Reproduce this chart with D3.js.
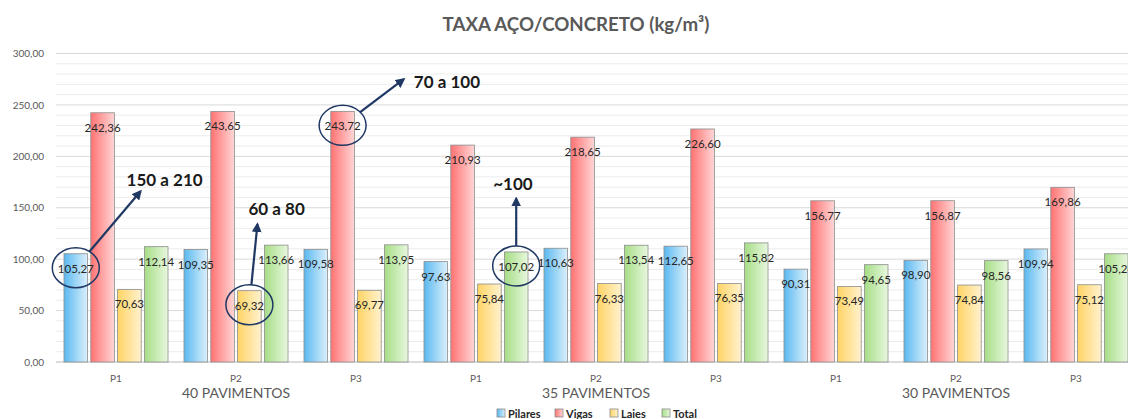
<!DOCTYPE html>
<html>
<head>
<meta charset="utf-8">
<script src="https://cdn.jsdelivr.net/npm/d3@7"></script>
<style>
  html, body { margin: 0; padding: 0; background: #fff; }
  svg { display: block; }
</style>
</head>
<body>
<svg id="chart" width="1128" height="419"></svg>
<script>
// ---------- DATA ----------
const groups = ["40 PAVIMENTOS", "35 PAVIMENTOS", "30 PAVIMENTOS"];
const subCategories = ["P1", "P2", "P3"];
const seriesNames = ["Pilares", "Vigas", "Laies", "Total"];
const pilares = [105.27, 109.35, 109.58, 97.63, 110.63, 112.65, 90.31, 98.90, 109.94];
const vigas   = [242.36, 243.65, 243.72, 210.93, 218.65, 226.60, 156.77, 156.87, 169.86];
const laies   = [70.63, 69.32, 69.77, 75.84, 76.33, 76.35, 73.49, 74.84, 75.12];
const total   = [112.14, 113.66, 113.95, 107.02, 113.54, 115.82, 94.65, 98.56, 105.24];
const yTicks  = [0, 50, 100, 150, 200, 250, 300];
const titleText = "TAXA AÇO/CONCRETO (kg/m³)";
// annotations: circled bar (category index, series), label text, arrow tip (offset in bands from bar, value)
const annotationCats   = [0, 1, 2, 3];
const annotationSeries = ["Pilares", "Laies", "Vigas", "Total"];
const annotationTexts  = ["150 a 210", "60 a 80", "70 a 100", "~100"];
const arrowTipBand     = [0.54, 0.067, 0.51, 0.0];
const arrowTipValue    = [166, 134, 275, 159];

// ---------- SETUP ----------
const seriesValues = { Pilares: pilares, Vigas: vigas, Laies: laies, Total: total };
const categories = [];
groups.forEach((g, gi) => subCategories.forEach((s, si) => categories.push({ id: gi * 3 + si, group: g, sub: s })));

const colors = {
  Pilares: ["#5ab8f0", "#dcf0fc"],
  Vigas:   ["#ff7373", "#ffd6d6"],
  Laies:   ["#ffd465", "#fff2cf"],
  Total:   ["#a5dd86", "#e8f8dd"]
};
// label offsets relative to arrow tip (style)
const labelOffsets = [[-14, -5], [-9, -9], [10, 9], [-23, -8]];

const svg = d3.select("#chart");
const margin = { left: 56, top: 53.5, bottom: 57 };
const plotBottom = 419 - margin.bottom;
const plotRight = 56 + 120 * 9;

const x0 = d3.scaleBand().domain(categories.map(c => c.id)).range([margin.left, plotRight]);
const x1 = d3.scaleBand().domain(seriesNames).range([8, x0.bandwidth() - 8]).paddingInner(0.12);
const y = d3.scaleLinear().domain([0, 300]).range([plotBottom, margin.top]);

const defs = svg.append("defs");
seriesNames.forEach(s => {
  const g = defs.append("linearGradient").attr("id", "grad-" + s).attr("x1", "0%").attr("x2", "100%").attr("y1", "0%").attr("y2", "0%");
  g.append("stop").attr("offset", "0%").attr("stop-color", colors[s][0]);
  g.append("stop").attr("offset", "100%").attr("stop-color", colors[s][1]);
});

const fontBase = "Lato, 'Open Sans', sans-serif";

// Title
svg.append("text")
  .attr("x", 576).attr("y", 31)
  .attr("text-anchor", "middle")
  .attr("font-family", fontBase)
  .attr("font-weight", "bold")
  .attr("font-size", 18.7)
  .attr("fill", "#595959")
  .text(titleText);

// gridlines (minor every 10, major every 50)
const minorTicks = d3.range(0, 301, 10).filter(v => v % 50 !== 0);
svg.append("g").selectAll("line").data(minorTicks).join("line")
  .attr("x1", margin.left).attr("x2", plotRight)
  .attr("y1", d => y(d)).attr("y2", d => y(d))
  .attr("stroke", "#ececec").attr("stroke-width", 1);
svg.append("g").selectAll("line").data(yTicks).join("line")
  .attr("x1", margin.left).attr("x2", plotRight)
  .attr("y1", d => y(d)).attr("y2", d => y(d))
  .attr("stroke", d => d === 0 ? "#d0d0d0" : "#d9d9d9").attr("stroke-width", d => d === 0 ? 1.5 : 1);

// Y axis
const fmt = v => d3.format(".2f")(v).replace(".", ",");
const yAxis = d3.axisLeft(y).tickValues(yTicks).tickSize(0).tickPadding(12).tickFormat(fmt);
const yg = svg.append("g").attr("transform", `translate(${margin.left},0)`).call(yAxis);
yg.select(".domain").remove();
yg.selectAll("text").attr("font-family", fontBase).attr("font-size", 10).attr("fill", "#595959");

// Bars
const catG = svg.append("g").selectAll("g").data(categories).join("g")
  .attr("transform", d => `translate(${x0(d.id)},0)`);

catG.selectAll("rect").data(d => seriesNames.map(s => ({ s, v: seriesValues[s][d.id] }))).join("rect")
  .attr("x", d => x1(d.s))
  .attr("y", d => y(d.v))
  .attr("width", x1.bandwidth())
  .attr("height", d => y(0) - y(d.v))
  .attr("fill", d => `url(#grad-${d.s})`)
  .attr("stroke", "#8c8c8c")
  .attr("stroke-width", 0.8);

catG.selectAll("text.lbl").data(d => seriesNames.map(s => ({ s, v: seriesValues[s][d.id] }))).join("text")
  .attr("class", "lbl")
  .attr("x", d => x1(d.s) + x1.bandwidth() / 2)
  .attr("y", d => y(d.v) + 19)
  .attr("text-anchor", "middle")
  .attr("font-family", fontBase)
  .attr("font-size", 11.5)
  .attr("fill", "#262626")
  .text(d => fmt(d.v));

// X axis labels
svg.append("g").selectAll("text").data(categories).join("text")
  .attr("x", d => x0(d.id) + x0.bandwidth() / 2)
  .attr("y", 382)
  .attr("text-anchor", "middle")
  .attr("font-family", fontBase)
  .attr("font-size", 10)
  .attr("fill", "#595959")
  .text(d => d.sub);

svg.append("g").selectAll("text").data(groups).join("text")
  .attr("x", (d, i) => x0(i * 3 + 1) + x0.bandwidth() / 2)
  .attr("y", 398)
  .attr("text-anchor", "middle")
  .attr("font-family", fontBase)
  .attr("font-size", 14)
  .attr("fill", "#595959")
  .text(d => d);

// Legend
const legendX = [497, 555, 610, 662];
const lg = svg.append("g").selectAll("g").data(seriesNames).join("g")
  .attr("transform", (d, i) => `translate(${legendX[i]},${409})`);
lg.append("rect").attr("width", 8).attr("height", 8)
  .attr("fill", d => `url(#grad-${d})`).attr("stroke", "#8c8c8c").attr("stroke-width", 0.8);
lg.append("text").attr("x", 11).attr("y", 8.5)
  .attr("font-family", fontBase).attr("font-size", 11).attr("font-weight", 700)
  .attr("fill", "#262626").text(d => d);

// Annotations
const navy = "#1f3864";
defs.append("marker").attr("id", "arrow").attr("viewBox", "0 0 10 10")
  .attr("refX", 8).attr("refY", 5).attr("markerWidth", 4.5).attr("markerHeight", 4.5)
  .attr("orient", "auto-start-reverse")
  .append("path").attr("d", "M0,0 L10,5 L0,10 z").attr("fill", navy);

const annG = svg.append("g");
annotationCats.forEach((cat, i) => {
  const series = annotationSeries[i];
  const v = seriesValues[series][cat];
  const cx = x0(cat) + x1(series) + x1.bandwidth() / 2;
  const cy = y(v) + 14;
  const rx = 23.5, ry = 20;
  annG.append("ellipse").attr("cx", cx).attr("cy", cy).attr("rx", rx).attr("ry", ry)
    .attr("fill", "none").attr("stroke", navy).attr("stroke-width", 1.5);
  const tx = cx + arrowTipBand[i] * x0.bandwidth();
  const ty = y(arrowTipValue[i]);
  const ang = Math.atan2(ty - cy, tx - cx);
  const t = Math.atan2(Math.sin(ang) / ry, Math.cos(ang) / rx);
  const sx = cx + rx * Math.cos(t), sy = cy + ry * Math.sin(t);
  annG.append("line").attr("x1", sx).attr("y1", sy).attr("x2", tx).attr("y2", ty)
    .attr("stroke", navy).attr("stroke-width", 2.2).attr("marker-end", "url(#arrow)");
  annG.append("text")
    .attr("x", tx + labelOffsets[i][0])
    .attr("y", ty + labelOffsets[i][1])
    .attr("font-family", fontBase).attr("font-weight", "bold").attr("font-size", 17)
    .attr("fill", "#1a1a1a")
    .text(annotationTexts[i]);
});
</script>
</body>
</html>
